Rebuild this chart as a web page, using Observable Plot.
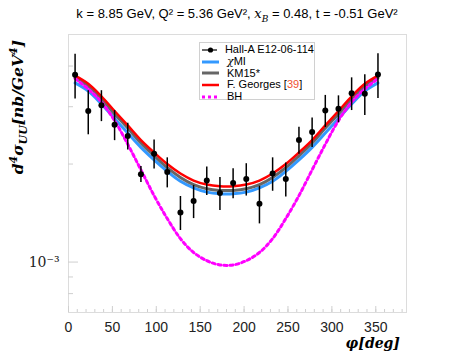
<!DOCTYPE html>
<html><head><meta charset="utf-8">
<script src="https://cdn.jsdelivr.net/npm/d3@7"></script>
<script src="https://cdn.jsdelivr.net/npm/@observablehq/plot@0.6"></script>
<style>
body{margin:0;background:#fff;}
#wrap{position:relative;width:449px;height:359px;font-family:"Liberation Sans",Arial,sans-serif;overflow:hidden;}
#wrap > svg{position:absolute;left:0;top:0;}
.title{position:absolute;left:0;width:474px;top:6px;text-align:center;font-size:13px;color:#000;white-space:nowrap;}
.m{font-family:"DejaVu Serif","Liberation Serif",serif;font-style:italic;}
.legend{position:absolute;left:199px;top:42px;width:116px;height:58px;border:1px solid #d0d0d0;background:#fff;box-sizing:border-box;padding-top:1px;}
.row{display:flex;align-items:center;height:11.7px;font-size:11px;line-height:11px;white-space:nowrap;}
.row svg{margin-left:2px;margin-right:8px;}
.ylab{position:absolute;left:5px;top:40px;transform-origin:0 0;transform:translate(0,156px) rotate(-90deg);font-family:"DejaVu Serif","Liberation Serif",serif;font-style:italic;font-weight:bold;font-size:15.5px;white-space:nowrap;width:156px;text-align:right;line-height:18px;}
.xlab{position:absolute;left:300px;width:100px;top:335px;line-height:16px;text-align:right;font-family:"DejaVu Serif","Liberation Serif",serif;font-style:italic;font-weight:bold;font-size:14px;white-space:nowrap;}
</style></head>
<body>
<div id="wrap">
  <div class="title">k = 8.85 GeV, Q² = 5.36 GeV², <span class="m">x<sub style="font-size:9px">B</sub></span> = 0.48, t = -0.51 GeV²</div>
</div>
<script>
// ---- data (values in units of 1e-3 nb/GeV^4) ----
const phi = [7.5,22.5,37.5,52.5,67.5,82.5,97.5,112.5,127.5,142.5,157.5,172.5,187.5,202.5,217.5,232.5,247.5,262.5,277.5,292.5,307.5,322.5,337.5,352.5];
const hallA    = [3.76,2.91,3.03,2.64,2.44,1.86,2.15,1.89,1.42,1.54,1.78,1.63,1.75,1.80,1.51,1.87,1.80,2.37,2.51,2.92,2.96,3.30,3.29,3.77];
const hallAErr = [0.59,0.45,0.33,0.28,0.23,0.105,0.22,0.20,0.17,0.18,0.18,0.19,0.185,0.205,0.20,0.22,0.215,0.225,0.26,0.33,0.28,0.38,0.47,0.59];
const chiMI   = [3.55,3.35,3.06,2.76,2.49,2.25,2.06,1.90,1.77,1.69,1.64,1.62,1.62,1.64,1.69,1.77,1.90,2.06,2.25,2.49,2.76,3.06,3.35,3.55];
const km15    = [3.68,3.47,3.17,2.85,2.58,2.32,2.12,1.95,1.82,1.73,1.68,1.66,1.66,1.68,1.73,1.82,1.95,2.12,2.32,2.58,2.85,3.17,3.47,3.68];
const georges = [3.74,3.53,3.23,2.91,2.63,2.37,2.17,2.00,1.87,1.78,1.73,1.71,1.71,1.73,1.78,1.87,2.00,2.17,2.37,2.63,2.91,3.23,3.53,3.74];
const bh      = [3.66,3.40,3.10,2.72,2.30,1.92,1.60,1.36,1.18,1.07,1.01,0.98,0.98,1.01,1.07,1.18,1.36,1.60,1.92,2.30,2.72,3.10,3.40,3.66];
const xMajor = [0,50,100,150,200,250,300,350];
const xMinor = d3.range(0, 390, 10);
const yMajor = [1e-3];
const yMinor = [8e-4,9e-4,2e-3,3e-3,4e-3];

const scale = 1e-3;
const pts = phi.map((p,i)=>({phi:p, v:hallA[i]*scale, e:hallAErr[i]*scale}));
const series = [
  {name:"χMI", vals:chiMI, color:"#3399ff", w:3, dash:null},
  {name:"KM15*", vals:km15, color:"#666666", w:3, dash:null},
  {name:"F. Georges", vals:georges, color:"#ff0000", w:2.5, dash:null},
  {name:"BH", vals:bh, color:"#ff00ff", w:3, dash:"3,3"}
];
const lineMarks = series.map(s => Plot.line(phi.map((p,i)=>({phi:p, v:s.vals[i]*scale})), {
  x:"phi", y:"v", stroke:s.color, strokeWidth:s.w, strokeDasharray:s.dash, curve:"catmull-rom"
}));

const chart = Plot.plot({
  width:449, height:359,
  marginLeft:68, marginRight:43, marginTop:34, marginBottom:47,
  style:{fontFamily:"'Liberation Sans', Arial, sans-serif", background:"transparent", color:"#222"},
  x:{domain:[0,385], label:null},
  y:{type:"log", domain:[7e-4,5e-3], label:null},
  marks:[
    Plot.frame({stroke:"#dcdcdc"}),
    Plot.axisX(xMinor, {tickSize:-3, stroke:"#cfcfcf", tickFormat:()=>"", label:null}),
    Plot.axisX(xMajor, {tickSize:-6, stroke:"#cfcfcf", tickFormat:()=>"", label:null}),
    Plot.axisX(xMajor, {tickSize:0, tickPadding:10, fontSize:14, fill:"#222", tickFormat:d=>String(d), label:null}),
    Plot.axisY(yMinor, {tickSize:-5, stroke:"#cfcfcf", tickFormat:()=>"", label:null}),
    Plot.axisY(yMajor, {tickSize:-10, stroke:"#cfcfcf", tickFormat:()=>"", label:null}),
    Plot.axisY(yMajor, {tickSize:0, tickPadding:9, fontSize:14, fill:"#222", fontFamily:"'DejaVu Serif', serif", tickFormat:()=>"10⁻³", label:null}),
    ...lineMarks,
    Plot.ruleX(pts, {x:"phi", y1:d=>d.v-d.e, y2:d=>d.v+d.e, stroke:"#000", strokeWidth:1.5}),
    Plot.dot(pts, {x:"phi", y:"v", r:3, fill:"#000"})
  ]
});
const wrap = document.getElementById("wrap");
wrap.insertBefore(chart, wrap.firstChild);

// legend
const leg = document.createElement("div");
leg.className = "legend";
function swatch(color, w, dash, dot){
  let s = `<svg width="17" height="10"><line x1="0" x2="17" y1="5" y2="5" stroke="${color}" stroke-width="${w}" ${dash?`stroke-dasharray="${dash}"`:""}/>`;
  if (dot) s += `<circle cx="8.5" cy="5" r="2.6" fill="#000"/>`;
  return s + "</svg>";
}
const rows = [
  [swatch("#000",1.2,null,true), "Hall-A E12-06-114"],
  [swatch(series[0].color,3), `<span style="font-family:'DejaVu Serif',serif;font-style:italic">χ</span>MI`],
  [swatch(series[1].color,3), "KM15*"],
  [swatch(series[2].color,2.5), `F. Georges [<span style="color:#f05030">39</span>]`],
  [swatch(series[3].color,3,"3,3"), "BH"]
];
leg.innerHTML = rows.map(r=>`<div class="row">${r[0]}<span>${r[1]}</span></div>`).join("");
wrap.appendChild(leg);

const yl = document.createElement("div");
yl.className = "ylab";
yl.innerHTML = `d<sup style="font-size:11px">4</sup>σ<sub style="font-size:11px">UU</sub>[nb/GeV<sup style="font-size:11px">4</sup>]`;
wrap.appendChild(yl);
const xl = document.createElement("div");
xl.className = "xlab";
xl.innerHTML = "φ[deg]";
wrap.appendChild(xl);
</script>
</body></html>
